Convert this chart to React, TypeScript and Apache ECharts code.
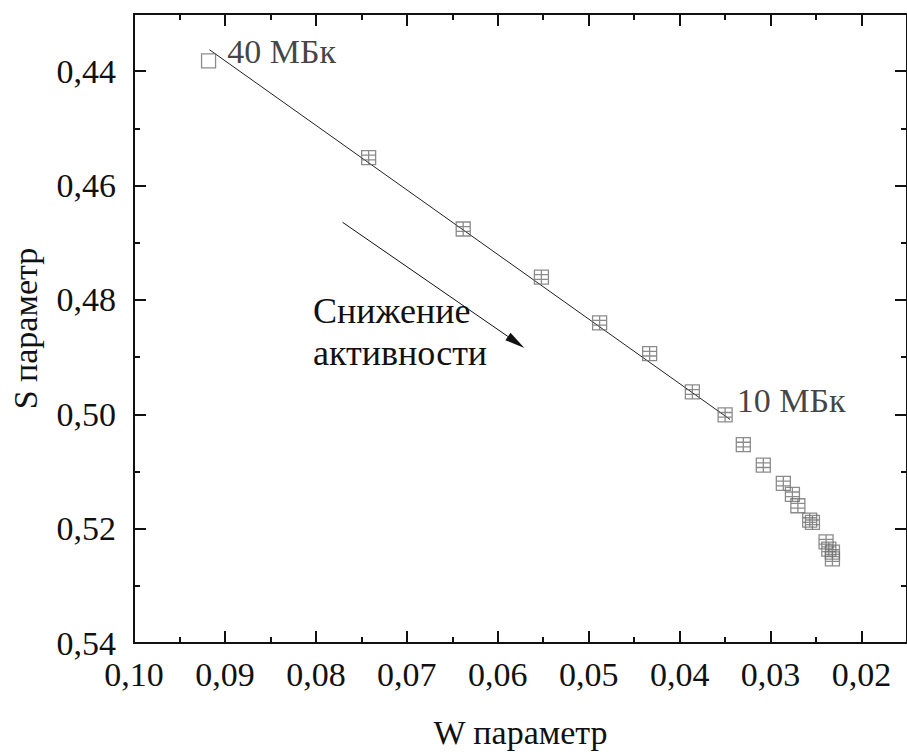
import React, { useEffect, useRef } from 'react';
import * as echarts from 'echarts';

// W and S parameters for each source activity (40 MBq down to the lowest)
const wValues = [0.0918, 0.0742, 0.0638, 0.0552, 0.0488, 0.0433, 0.0386, 0.035, 0.033, 0.0308, 0.0286, 0.0276, 0.027, 0.0257, 0.0254, 0.0239, 0.0236, 0.0232, 0.0232];
const sValues = [0.4382, 0.4551, 0.4676, 0.476, 0.484, 0.4894, 0.4961, 0.5001, 0.5053, 0.5089, 0.5121, 0.514, 0.516, 0.5185, 0.5189, 0.5223, 0.5236, 0.5241, 0.5253];
const pointLabels = ['40 МБк', '', '', '', '', '', '', '10 МБк', '', '', '', '', '', '', '', '', '', '', ''];

// Linear fit through the 40–10 MBq points
const fitW = [0.0917, 0.03446];
const fitS = [0.43625, 0.5009];

// Trend arrow (start, end) and its caption
const arrowW = [0.07707, 0.05707];
const arrowS = [0.46642, 0.48839];
const arrowCaption = ['Снижение', 'активности'];

// Axis ticks
const xMajorTicks = [0.1, 0.09, 0.08, 0.07, 0.06, 0.05, 0.04, 0.03, 0.02];
const xMinorTicks = [0.095, 0.085, 0.075, 0.065, 0.055, 0.045, 0.035, 0.025];
const yMajorTicks = [0.44, 0.46, 0.48, 0.5, 0.52, 0.54];
const yMinorTicks = [0.45, 0.47, 0.49, 0.51, 0.53];

const FONT = "'Liberation Serif', 'Times New Roman', serif";
const INK = '#111';
const MARK = '#6e6e6e';
const GRID_SYMBOL = 'path://M0,0H12V12H0Z M0,4H12 M0,8H12 M6,0V12';

const fmt = (v: number) => v.toFixed(2).replace('.', ',');

function xAxisDef(position: 'bottom' | 'top', ticks: number[], len: number, main: boolean) {
  return {
    type: 'value',
    position,
    min: 0.015,
    max: 0.1,
    inverse: true,
    axisLine: { show: main, onZero: false, lineStyle: { color: INK, width: 2 } },
    axisTick: { show: true, inside: true, length: len, customValues: ticks, lineStyle: { color: INK, width: 2 } },
    axisLabel: {
      show: main && position === 'bottom',
      customValues: ticks,
      formatter: fmt,
      fontFamily: FONT,
      fontSize: 34,
      color: INK,
      margin: 14,
    },
    splitLine: { show: false },
    ...(main && position === 'bottom'
      ? {
          name: 'W параметр',
          nameLocation: 'middle',
          nameGap: 72,
          nameTextStyle: { fontFamily: FONT, fontSize: 34, color: INK },
        }
      : {}),
  };
}

function yAxisDef(position: 'left' | 'right', ticks: number[], len: number, main: boolean) {
  return {
    type: 'value',
    position,
    min: 0.43,
    max: 0.54,
    inverse: true,
    axisLine: { show: main, onZero: false, lineStyle: { color: INK, width: 2 } },
    axisTick: { show: true, inside: true, length: len, customValues: ticks, lineStyle: { color: INK, width: 2 } },
    axisLabel: {
      show: main && position === 'left',
      customValues: ticks,
      formatter: fmt,
      fontFamily: FONT,
      fontSize: 34,
      color: INK,
      margin: 18,
    },
    splitLine: { show: false },
    ...(main && position === 'left'
      ? {
          name: 'S параметр',
          nameLocation: 'middle',
          nameGap: 92,
          nameTextStyle: { fontFamily: FONT, fontSize: 34, color: INK },
        }
      : {}),
  };
}

export default function App() {
  const ref = useRef<HTMLDivElement>(null);

  useEffect(() => {
    if (!ref.current) return;
    const chart = echarts.init(ref.current, undefined, { renderer: 'svg' });

    const points = wValues.map((w, i) => {
      const label = pointLabels[i];
      const first = i === 0;
      return {
        value: [w, sValues[i]],
        symbol: first ? 'rect' : GRID_SYMBOL,
        label: label
          ? {
              show: true,
              formatter: label,
              position: 'right',
              distance: first ? 11 : 4,
              offset: first ? [0, -9] : [0, -14],
              fontFamily: FONT,
              fontSize: 34,
              color: INK,
            }
          : { show: false },
      };
    });

    chart.setOption({
      animation: false,
      backgroundColor: '#fff',
      grid: { left: 130, top: 14, width: 783, height: 630, containLabel: false },
      xAxis: [
        xAxisDef('bottom', xMajorTicks, 12, true),
        xAxisDef('bottom', xMinorTicks, 6, false),
        xAxisDef('top', xMajorTicks, 12, true),
        xAxisDef('top', xMinorTicks, 6, false),
      ],
      yAxis: [
        yAxisDef('left', yMajorTicks, 12, true),
        yAxisDef('left', yMinorTicks, 6, false),
        yAxisDef('right', yMajorTicks, 12, true),
        yAxisDef('right', yMinorTicks, 6, false),
      ],
      series: [
        {
          type: 'line',
          xAxisIndex: 0,
          yAxisIndex: 0,
          data: fitW.map((w, i) => [w, fitS[i]]),
          showSymbol: false,
          symbol: 'none',
          lineStyle: { color: '#222', width: 1 },
          z: 2,
        },
        {
          type: 'scatter',
          xAxisIndex: 0,
          yAxisIndex: 0,
          data: points,
          symbolSize: 14,
          itemStyle: { color: 'rgba(0,0,0,0)', borderColor: MARK, borderWidth: 1.3 },
          z: 3,
        },
        {
          type: 'custom',
          xAxisIndex: 0,
          yAxisIndex: 0,
          data: [[arrowW[0], arrowS[0], arrowW[1], arrowS[1]]],
          encode: { x: [0, 2], y: [1, 3] },
          renderItem: (_params: any, api: any) => {
            const p0 = api.coord([api.value(0), api.value(1)]);
            const p1 = api.coord([api.value(2), api.value(3)]);
            const ang = Math.atan2(p1[1] - p0[1], p1[0] - p0[0]);
            const headLen = 20;
            const headHalf = 4.5;
            const bx = p1[0] - headLen * Math.cos(ang);
            const by = p1[1] - headLen * Math.sin(ang);
            const nx = -Math.sin(ang) * headHalf;
            const ny = Math.cos(ang) * headHalf;
            return {
              type: 'group',
              children: [
                {
                  type: 'line',
                  shape: { x1: p0[0], y1: p0[1], x2: bx, y2: by },
                  style: { stroke: INK, lineWidth: 1 },
                },
                {
                  type: 'polygon',
                  shape: { points: [[p1[0], p1[1]], [bx + nx, by + ny], [bx - nx, by - ny]] },
                  style: { fill: INK },
                },
              ],
            };
          },
          z: 2,
        },
      ],
      graphic: [
        {
          type: 'text',
          x: 313,
          y: 290,
          style: {
            text: arrowCaption.join('\n'),
            font: `36px ${FONT}`,
            lineHeight: 42,
            fill: INK,
            verticalAlign: 'top',
          },
        },
      ],
    });

    return () => chart.dispose();
  }, []);

  return (
    <div
      ref={ref}
      style={{ position: 'fixed', left: 0, top: 0, width: 907, height: 754, background: '#fff' }}
    />
  );
}
